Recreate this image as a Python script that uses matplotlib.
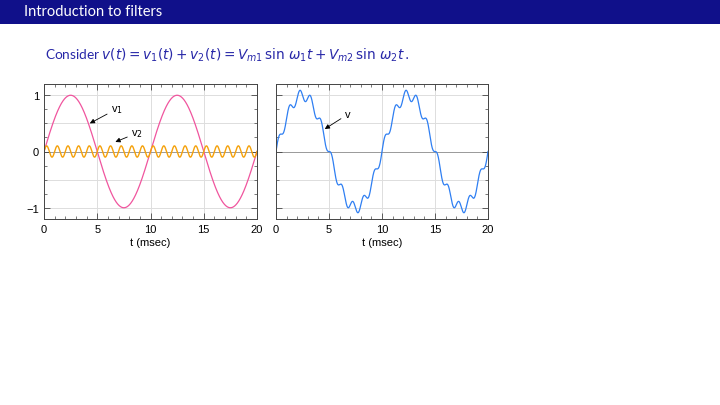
import numpy as np
import matplotlib
matplotlib.use("Agg")
from matplotlib import pyplot as plt
from matplotlib.ticker import MultipleLocator

# signal parameters
vm1 = 1.0      # amplitude of v1
f1 = 0.1       # cycles per msec (period 10 msec)
vm2 = 0.1      # amplitude of v2
f2 = 1.0       # cycles per msec (period 1 msec)
t_max = 20.0

x_ticks = [0, 5, 10, 15, 20]
y_ticks = [-1, 0, 1]

t = np.linspace(0, t_max, 2001)
v1 = vm1*np.sin(2*np.pi*f1*t)
v2 = vm2*np.sin(2*np.pi*f2*t)
v = v1 + v2

plt.rcParams['font.family'] = ['Liberation Sans', 'DejaVu Sans']
plt.rcParams['mathtext.fontset'] = 'dejavusans'

fig = plt.figure(figsize=(7.2, 4.06), dpi=100)

# beamer style title bar
bar = fig.add_axes([0, 1-25/406, 1, 25/406])
bar.set_facecolor('#10108a')
bar.set_xticks([])
bar.set_yticks([])
for s in bar.spines.values():
    s.set_visible(False)
fig.text(24/720, 1-12.5/406, "Introduction to filters", color='white',
         fontsize=10.5, va='center', ha='left', family=['Lato', 'DejaVu Sans'])

fig.text(45/720, 1-55/406,
         r"Consider $v(t) = v_1(t) + v_2(t) = V_{m1}\,\sin\,\omega_1 t + V_{m2}\,\sin\,\omega_2 t\,.$",
         color='#2828a8', fontsize=9.8, va='center', ha='left', family=['Lato', 'DejaVu Sans'])


def style(ax, labels=True):
    ax.set_xlim(0, t_max)
    ax.set_ylim(-1.2, 1.2)
    ax.set_xticks(x_ticks)
    ax.set_yticks(y_ticks)
    ax.xaxis.set_minor_locator(MultipleLocator(1))
    ax.yaxis.set_minor_locator(MultipleLocator(0.25))
    ax.tick_params(which='both', direction='in', top=True, right=True,
                   labelsize=8, color='#444444')
    ax.tick_params(which='major', length=4, width=0.6)
    ax.tick_params(which='minor', length=2.5, width=0.5)
    if not labels:
        ax.set_yticklabels([])
    for s in ax.spines.values():
        s.set_color('#444444')
        s.set_linewidth(0.7)
    for xg in [5, 10, 15]:
        ax.axvline(xg, color='#dddddd', lw=0.7, zorder=0)
    for yg in [-1, -0.5, 0.5, 1]:
        ax.axhline(yg, color='#dddddd', lw=0.7, zorder=0)
    ax.axhline(0, color='#999999', lw=0.7, zorder=0)
    ax.set_xlabel("t (msec)", fontsize=8, labelpad=2.5)


arrow = dict(arrowstyle='-|>', color='black', lw=0.6, mutation_scale=7,
             shrinkA=1, shrinkB=0)

ax1 = fig.add_axes([44/720, 1-220/406, 213/720, 135/406])
style(ax1)
ax1.plot(t, v1, color='#f0559e', lw=0.9)
ax1.plot(t, v2, color='#f5a10a', lw=1.0)
ax1.annotate("v$_1$", xy=(4.3, 0.5), xytext=(6.3, 0.76),
             fontsize=8, ha='left', va='center', arrowprops=arrow)
ax1.annotate("v$_2$", xy=(6.7, 0.17), xytext=(8.2, 0.33),
             fontsize=8, ha='left', va='center', arrowprops=arrow)

ax2 = fig.add_axes([276/720, 1-220/406, 212/720, 135/406])
style(ax2, labels=False)
ax2.plot(t, v, color='#2f7ff2', lw=0.9)
ax2.annotate("v", xy=(4.6, 0.40), xytext=(6.5, 0.66),
             fontsize=8, ha='left', va='center', arrowprops=arrow)

fig.savefig("out.png", dpi=100)
